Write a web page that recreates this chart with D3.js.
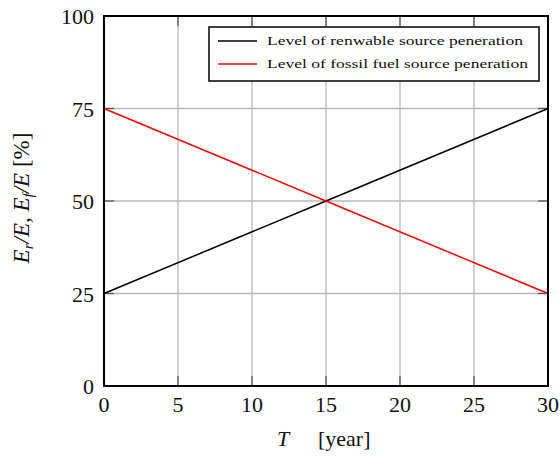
<!DOCTYPE html>
<html>
<head>
<meta charset="utf-8">
<script src="https://d3js.org/d3.v7.min.js"></script>
<style>
  body { margin: 0; background: white; }
  text { font-family: "Liberation Serif", "DejaVu Serif", serif; fill: #111; }
</style>
</head>
<body>
<script>
  // data
  let years = [0, 15, 30];
  let renewable = [25, 50, 75];
  let fossil = [75, 50, 25];
  let xTicks = [0, 5, 10, 15, 20, 25, 30];
  let yTicks = [0, 25, 50, 75, 100];
  let seriesNames = ["Level of renwable source peneration", "Level of fossil fuel source  peneration"];
  let seriesColors = ["#000000", "#ff0000"];

  let W = 560, H = 456;
  let pLeft = 104, pRight = 548, pTop = 16, pBottom = 386;

  var svg = d3.select("body")
    .append("svg")
    .attr("width", W)
    .attr("height", H);

  let x = d3.scaleLinear().domain([0, 30]).range([pLeft, pRight]);
  let y = d3.scaleLinear().domain([0, 100]).range([pBottom, pTop]);

  // grid
  svg.append("g").selectAll("line")
    .data(xTicks)
    .enter().append("line")
    .attr("x1", d => x(d)).attr("x2", d => x(d))
    .attr("y1", pTop).attr("y2", pBottom)
    .attr("stroke", "#b8b8b8").attr("stroke-width", 1.3);

  svg.append("g").selectAll("line")
    .data(yTicks)
    .enter().append("line")
    .attr("x1", pLeft).attr("x2", pRight)
    .attr("y1", d => y(d)).attr("y2", d => y(d))
    .attr("stroke", "#b8b8b8").attr("stroke-width", 1.3);

  // inward ticks on all four sides
  let tk = 10;
  let tickG = svg.append("g").attr("stroke", "#555").attr("stroke-width", 1.3);
  xTicks.forEach(d => {
    tickG.append("line").attr("x1", x(d)).attr("x2", x(d)).attr("y1", pBottom).attr("y2", pBottom - tk);
    tickG.append("line").attr("x1", x(d)).attr("x2", x(d)).attr("y1", pTop).attr("y2", pTop + tk);
  });
  yTicks.forEach(d => {
    tickG.append("line").attr("x1", pLeft).attr("x2", pLeft + tk).attr("y1", y(d)).attr("y2", y(d));
    tickG.append("line").attr("x1", pRight).attr("x2", pRight - tk).attr("y1", y(d)).attr("y2", y(d));
  });

  // series
  let line = d3.line().x(d => x(d[0])).y(d => y(d[1]));
  [renewable, fossil].forEach((s, i) => {
    svg.append("path")
      .datum(years.map((t, j) => [t, s[j]]))
      .attr("d", line)
      .attr("fill", "none")
      .attr("stroke", seriesColors[i])
      .attr("stroke-width", 1.5);
  });

  // frame
  svg.append("rect")
    .attr("x", pLeft).attr("y", pTop)
    .attr("width", pRight - pLeft).attr("height", pBottom - pTop)
    .attr("fill", "none").attr("stroke", "#000").attr("stroke-width", 2);

  // tick labels
  svg.append("g").selectAll("text")
    .data(xTicks)
    .enter().append("text")
    .attr("x", d => x(d))
    .attr("y", pBottom + 26)
    .attr("text-anchor", "middle")
    .style("font-size", "22px")
    .text(d => d);

  svg.append("g").selectAll("text")
    .data(yTicks)
    .enter().append("text")
    .attr("x", pLeft - 10)
    .attr("y", d => y(d) + 8)
    .attr("text-anchor", "end")
    .style("font-size", "22px")
    .text(d => d);

  // x axis title
  let xt = svg.append("text")
    .attr("x", 277).attr("y", 446)
    .style("font-size", "22px");
  xt.append("tspan").style("font-style", "italic").text("T");
  xt.append("tspan").attr("x", 318).text("[year]");

  // y axis title
  let yt = svg.append("text")
    .attr("transform", "translate(29,198) rotate(-90)")
    .attr("text-anchor", "middle")
    .style("font-size", "23px");
  yt.append("tspan").style("font-style", "italic").text("E");
  yt.append("tspan").style("font-style", "italic").style("font-size", "15px").attr("dy", 4).text("r");
  yt.append("tspan").style("font-style", "italic").attr("dy", -4).text("/E, E");
  yt.append("tspan").style("font-style", "italic").style("font-size", "15px").attr("dy", 4).text("f");
  yt.append("tspan").style("font-style", "italic").attr("dy", -4).text("/E");
  yt.append("tspan").text(" [%]");

  // legend
  let lg = svg.append("g");
  lg.append("rect")
    .attr("x", 209).attr("y", 27)
    .attr("width", 330).attr("height", 54)
    .attr("fill", "white").attr("stroke", "#000").attr("stroke-width", 1.5);
  let lens = [256, 261];
  seriesNames.forEach((n, i) => {
    let ly = 41 + i * 23;
    lg.append("line")
      .attr("x1", 218).attr("x2", 257)
      .attr("y1", ly).attr("y2", ly)
      .attr("stroke", seriesColors[i]).attr("stroke-width", 1.5);
    lg.append("text")
      .attr("x", 267).attr("y", ly + 4)
      .attr("textLength", lens[i])
      .attr("lengthAdjust", "spacingAndGlyphs")
      .style("font-size", "13px")
      .text(n);
  });
</script>
</body>
</html>
